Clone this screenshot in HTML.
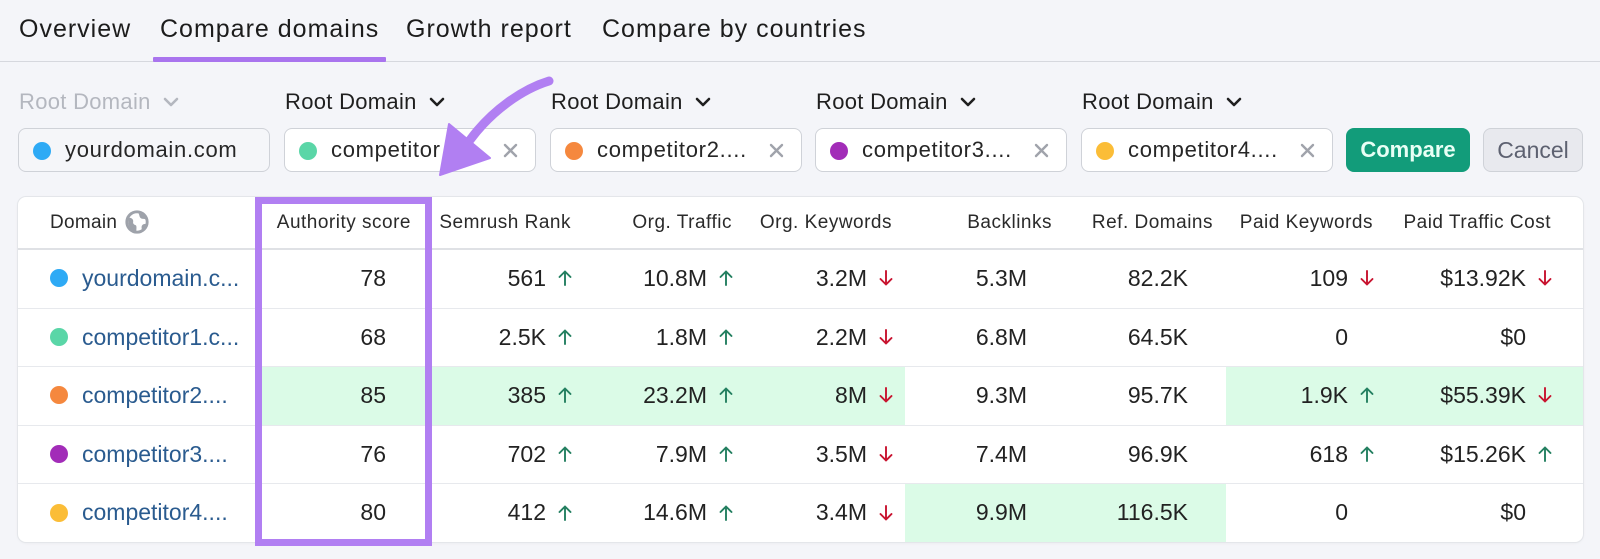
<!DOCTYPE html>
<html><head><meta charset="utf-8">
<style>
*{margin:0;padding:0;box-sizing:border-box}
html,body{width:1600px;height:559px;overflow:hidden;background:#f4f5f9;font-family:"Liberation Sans",Arial,sans-serif;}
.a{position:absolute}
.tab{position:absolute;top:17px;font-size:25px;line-height:25px;letter-spacing:1px;color:#1c1c1c;white-space:nowrap}
.lbl{position:absolute;top:91px;font-size:22px;line-height:22px;letter-spacing:0.3px;color:#1f1f1f;white-space:nowrap}
.chev{position:absolute;top:97px}
.inp{position:absolute;top:128px;height:44px;width:252px;border:1px solid #cfd2d8;border-radius:8px;background:#fff;}
.inp .dot{position:absolute;left:14px;top:12.5px;width:18px;height:18px;border-radius:50%}
.inp .t{position:absolute;left:46px;top:0;height:42px;line-height:42px;font-size:22px;letter-spacing:0.7px;color:#262626;white-space:nowrap}
.inp svg{position:absolute;right:17px;top:14px}
.card{position:absolute;left:18px;top:197px;width:1565px;height:345px;background:#fff;border-radius:8px;box-shadow:0 0 0 1px #e4e6ea,0 1px 3px rgba(0,0,0,.06)}
.hd{position:absolute;top:197px;height:52px;line-height:52px;font-size:19px;letter-spacing:0.5px;color:#2a2a2a;white-space:nowrap;text-align:right;left:0}
.row{position:absolute;left:0;width:1600px;height:58.6px}
.hl{position:absolute;top:0;height:58.6px;background:#dbfbe7}
.line{position:absolute;left:18px;width:1565px;height:1px;background:#e7e9ed;top:0}
.v{position:absolute;left:0;top:0;height:58.6px;line-height:58.6px;font-size:23px;color:#222;text-align:right;white-space:nowrap}
.dm{position:absolute;left:82px;top:0;height:58.6px;line-height:58.6px;font-size:23px;color:#2a5b8f;white-space:nowrap}
.dd{position:absolute;left:50px;top:20.3px;width:18px;height:18px;border-radius:50%}
.ar{position:absolute;top:21.3px}
</style></head><body>

<!-- Tabs -->
<div class="tab" style="left:19px">Overview</div>
<div class="tab" style="left:160px">Compare domains</div>
<div class="tab" style="left:406px">Growth report</div>
<div class="tab" style="left:602px">Compare by countries</div>
<div class="a" style="left:0;top:61px;width:1600px;height:1px;background:#d6d8de"></div>
<div class="a" style="left:153px;top:57px;width:233px;height:5px;background:#a974ee;border-radius:1px"></div>

<!-- Root Domain labels -->
<div class="lbl" style="left:19px;color:#b4b7bf">Root Domain</div>
<svg class="chev" style="left:163px" width="16" height="10" viewBox="0 0 16 10"><polyline points="2,2 8,8 14,2" fill="none" stroke="#b4b7bf" stroke-width="2.6" stroke-linecap="round" stroke-linejoin="round"/></svg>
<div class="lbl" style="left:285px">Root Domain</div>
<svg class="chev" style="left:429px" width="16" height="10" viewBox="0 0 16 10"><polyline points="2,2 8,8 14,2" fill="none" stroke="#1f1f1f" stroke-width="2.6" stroke-linecap="round" stroke-linejoin="round"/></svg>
<div class="lbl" style="left:551px">Root Domain</div>
<svg class="chev" style="left:695px" width="16" height="10" viewBox="0 0 16 10"><polyline points="2,2 8,8 14,2" fill="none" stroke="#1f1f1f" stroke-width="2.6" stroke-linecap="round" stroke-linejoin="round"/></svg>
<div class="lbl" style="left:816px">Root Domain</div>
<svg class="chev" style="left:960px" width="16" height="10" viewBox="0 0 16 10"><polyline points="2,2 8,8 14,2" fill="none" stroke="#1f1f1f" stroke-width="2.6" stroke-linecap="round" stroke-linejoin="round"/></svg>
<div class="lbl" style="left:1082px">Root Domain</div>
<svg class="chev" style="left:1226px" width="16" height="10" viewBox="0 0 16 10"><polyline points="2,2 8,8 14,2" fill="none" stroke="#1f1f1f" stroke-width="2.6" stroke-linecap="round" stroke-linejoin="round"/></svg>

<!-- Inputs -->
<div class="inp" style="left:18px;background:#f5f6f9"><div class="dot" style="background:#2eaaf5"></div><div class="t">yourdomain.com</div></div>
<div class="inp" style="left:284px"><div class="dot" style="background:#5ad6a7"></div><div class="t">competitor</div>
<svg width="15" height="15" viewBox="0 0 15 15"><path d="M2 2L13 13M13 2L2 13" stroke="#a0a3ab" stroke-width="2.4" stroke-linecap="round"/></svg></div>
<div class="inp" style="left:550px"><div class="dot" style="background:#f5883e"></div><div class="t">competitor2....</div>
<svg width="15" height="15" viewBox="0 0 15 15"><path d="M2 2L13 13M13 2L2 13" stroke="#a0a3ab" stroke-width="2.4" stroke-linecap="round"/></svg></div>
<div class="inp" style="left:815px"><div class="dot" style="background:#a22cb8"></div><div class="t">competitor3....</div>
<svg width="15" height="15" viewBox="0 0 15 15"><path d="M2 2L13 13M13 2L2 13" stroke="#a0a3ab" stroke-width="2.4" stroke-linecap="round"/></svg></div>
<div class="inp" style="left:1081px"><div class="dot" style="background:#fbbd37"></div><div class="t">competitor4....</div>
<svg width="15" height="15" viewBox="0 0 15 15"><path d="M2 2L13 13M13 2L2 13" stroke="#a0a3ab" stroke-width="2.4" stroke-linecap="round"/></svg></div>

<div class="a" style="left:1346px;top:128px;width:124px;height:44px;background:#129c7a;border-radius:8px;color:#e8fff5;font-weight:bold;font-size:22px;line-height:44px;text-align:center">Compare</div>
<div class="a" style="left:1483px;top:128px;width:100px;height:44px;background:#e8e9ee;border:1px solid #cfd2d8;border-radius:8px;color:#5d6170;font-size:23px;line-height:42px;text-align:center">Cancel</div>

<!-- Card -->
<div class="card"></div>
<div class="a" style="left:18px;top:248px;width:1565px;height:2px;background:#dfe1e5"></div>

<!-- Header -->
<div class="hd" style="left:50px;text-align:left;letter-spacing:0.3px">Domain</div>
<svg class="a" style="left:125px;top:210px" width="24" height="24" viewBox="0 0 25 25"><circle cx="12.5" cy="12.5" r="10.6" fill="none" stroke="#9ea2aa" stroke-width="3"/><path d="M4 8 C7 8 9 10 8.5 12.5 C8 14.5 10 15.5 11.5 16 C12.5 18 11.5 20 12 23 L6.5 20.5 C3.5 17 2.5 11.5 4 8Z M14 3.5 C15.5 5.5 14.5 7.5 17 8.8 C19 9.8 20.5 8.5 22.5 10.5 L22.8 14.5 C20.5 14.3 18.5 14.5 17.5 16.5 C16.8 18.5 18 20 17.2 22.5 C20 21.5 22.3 18.5 23 14.5 L23 11 C22 7 18.5 4 14 3.5Z" fill="#9ea2aa"/></svg>
<div class="hd" style="width:411px">Authority score</div>
<div class="hd" style="width:571px">Semrush Rank</div>
<div class="hd" style="width:732px">Org. Traffic</div>
<div class="hd" style="width:892px">Org. Keywords</div>
<div class="hd" style="width:1052px">Backlinks</div>
<div class="hd" style="width:1213px">Ref. Domains</div>
<div class="hd" style="width:1373px">Paid Keywords</div>
<div class="hd" style="width:1551px">Paid Traffic Cost</div>

<svg width="0" height="0" style="position:absolute">
<defs>
<symbol id="up" viewBox="0 0 14 16"><path d="M7 15V1.5M1.5 7L7 1.5L12.5 7" fill="none" stroke="#237f60" stroke-width="1.9" stroke-linecap="round" stroke-linejoin="round"/></symbol>
<symbol id="dn" viewBox="0 0 14 16"><path d="M7 1V14.5M1.5 9L7 14.5L12.5 9" fill="none" stroke="#c8132f" stroke-width="1.9" stroke-linecap="round" stroke-linejoin="round"/></symbol>
</defs></svg>

<!-- Row 1 -->
<div class="row" style="top:249px">
<div class="dd" style="background:#2eaaf5"></div><div class="dm">yourdomain.c...</div>
<div class="v" style="width:386px">78</div>
<div class="v" style="width:546px">561</div><svg class="ar" style="left:558px" width="14" height="16"><use href="#up"/></svg>
<div class="v" style="width:707px">10.8M</div><svg class="ar" style="left:719px" width="14" height="16"><use href="#up"/></svg>
<div class="v" style="width:867px">3.2M</div><svg class="ar" style="left:879px" width="14" height="16"><use href="#dn"/></svg>
<div class="v" style="width:1027px">5.3M</div>
<div class="v" style="width:1188px">82.2K</div>
<div class="v" style="width:1348px">109</div><svg class="ar" style="left:1360px" width="14" height="16"><use href="#dn"/></svg>
<div class="v" style="width:1526px">$13.92K</div><svg class="ar" style="left:1538px" width="14" height="16"><use href="#dn"/></svg>
</div>

<!-- Row 2 -->
<div class="row" style="top:307.6px">
<div class="line"></div>
<div class="dd" style="background:#5ad6a7"></div><div class="dm">competitor1.c...</div>
<div class="v" style="width:386px">68</div>
<div class="v" style="width:546px">2.5K</div><svg class="ar" style="left:558px" width="14" height="16"><use href="#up"/></svg>
<div class="v" style="width:707px">1.8M</div><svg class="ar" style="left:719px" width="14" height="16"><use href="#up"/></svg>
<div class="v" style="width:867px">2.2M</div><svg class="ar" style="left:879px" width="14" height="16"><use href="#dn"/></svg>
<div class="v" style="width:1027px">6.8M</div>
<div class="v" style="width:1188px">64.5K</div>
<div class="v" style="width:1348px">0</div>
<div class="v" style="width:1526px">$0</div>
</div>

<!-- Row 3 -->
<div class="row" style="top:366.2px">
<div class="hl" style="left:255px;width:650px"></div>
<div class="hl" style="left:1226px;width:357px"></div>
<div class="line"></div>
<div class="dd" style="background:#f5883e"></div><div class="dm">competitor2....</div>
<div class="v" style="width:386px">85</div>
<div class="v" style="width:546px">385</div><svg class="ar" style="left:558px" width="14" height="16"><use href="#up"/></svg>
<div class="v" style="width:707px">23.2M</div><svg class="ar" style="left:719px" width="14" height="16"><use href="#up"/></svg>
<div class="v" style="width:867px">8M</div><svg class="ar" style="left:879px" width="14" height="16"><use href="#dn"/></svg>
<div class="v" style="width:1027px">9.3M</div>
<div class="v" style="width:1188px">95.7K</div>
<div class="v" style="width:1348px">1.9K</div><svg class="ar" style="left:1360px" width="14" height="16"><use href="#up"/></svg>
<div class="v" style="width:1526px">$55.39K</div><svg class="ar" style="left:1538px" width="14" height="16"><use href="#dn"/></svg>
</div>

<!-- Row 4 -->
<div class="row" style="top:424.8px">
<div class="line"></div>
<div class="dd" style="background:#a22cb8"></div><div class="dm">competitor3....</div>
<div class="v" style="width:386px">76</div>
<div class="v" style="width:546px">702</div><svg class="ar" style="left:558px" width="14" height="16"><use href="#up"/></svg>
<div class="v" style="width:707px">7.9M</div><svg class="ar" style="left:719px" width="14" height="16"><use href="#up"/></svg>
<div class="v" style="width:867px">3.5M</div><svg class="ar" style="left:879px" width="14" height="16"><use href="#dn"/></svg>
<div class="v" style="width:1027px">7.4M</div>
<div class="v" style="width:1188px">96.9K</div>
<div class="v" style="width:1348px">618</div><svg class="ar" style="left:1360px" width="14" height="16"><use href="#up"/></svg>
<div class="v" style="width:1526px">$15.26K</div><svg class="ar" style="left:1538px" width="14" height="16"><use href="#up"/></svg>
</div>

<!-- Row 5 -->
<div class="row" style="top:483.4px">
<div class="hl" style="left:905px;width:321px;height:58.6px"></div>
<div class="line"></div>
<div class="dd" style="background:#fbbd37"></div><div class="dm">competitor4....</div>
<div class="v" style="width:386px">80</div>
<div class="v" style="width:546px">412</div><svg class="ar" style="left:558px" width="14" height="16"><use href="#up"/></svg>
<div class="v" style="width:707px">14.6M</div><svg class="ar" style="left:719px" width="14" height="16"><use href="#up"/></svg>
<div class="v" style="width:867px">3.4M</div><svg class="ar" style="left:879px" width="14" height="16"><use href="#dn"/></svg>
<div class="v" style="width:1027px">9.9M</div>
<div class="v" style="width:1188px">116.5K</div>
<div class="v" style="width:1348px">0</div>
<div class="v" style="width:1526px">$0</div>
</div>

<!-- Authority box highlight -->
<div class="a" style="left:255px;top:197px;width:177px;height:349px;border:7.5px solid #b17ff2"></div>

<!-- Purple arrow -->
<svg class="a" style="left:0;top:0" width="1600" height="559" viewBox="0 0 1600 559">
<path d="M549 81 C523 89 492 110 470 140" fill="none" stroke="#b17ff2" stroke-width="9" stroke-linecap="round"/>
<polygon points="449,124 490,158 440,175" fill="#b17ff2" stroke="#b17ff2" stroke-width="2" stroke-linejoin="round"/>
</svg>

</body></html>
